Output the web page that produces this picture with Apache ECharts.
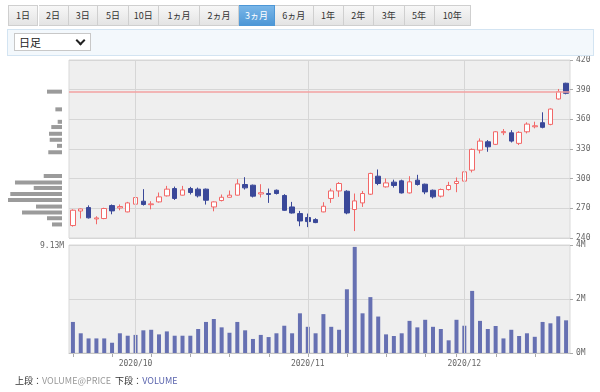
<!DOCTYPE html>
<html><head><meta charset="utf-8">
<script src="https://cdn.jsdelivr.net/npm/echarts@6/dist/echarts.min.js"></script>
<style>
html,body{margin:0;padding:0;background:#fff;}
body{width:600px;height:392px;overflow:hidden;position:relative;font-family:"Noto Sans CJK JP","Noto Sans",sans-serif;}
#chart{position:absolute;left:0;top:0;width:600px;height:392px;}
.tab{position:absolute;top:5px;height:21px;box-sizing:border-box;border:1px solid #cfcfcf;border-left:none;background:linear-gradient(#f7f7f7,#e4e4e4);color:#333;font-size:9px;line-height:19px;text-align:center;}
.tab.first{border-left:1px solid #cfcfcf;}
.tab.sel{background:linear-gradient(#79b6e8,#4d97d6);color:#fff;border-color:#4d97d6;}
#box{position:absolute;left:7px;top:29px;width:587px;height:27px;box-sizing:border-box;background:#f3f8fc;border:1px solid #d3e4f2;}
#sel{position:absolute;left:6px;top:3px;width:77px;height:18px;box-sizing:border-box;background:#fff;border:1px solid #c8c8c8;font-size:11px;line-height:16px;padding-left:4px;color:#222;}
#chev{position:absolute;right:6px;top:3px;width:5px;height:5px;border-right:2px solid #222;border-bottom:2px solid #222;transform:rotate(45deg);}
#legend{position:absolute;left:15px;top:374px;font-size:9px;white-space:nowrap;color:#333;}
</style></head>
<body>
<div id="chart"></div>
<div id="tabs"></div>
<div id="box"><div id="sel">日足<div id="chev"></div></div></div>
<div id="legend"><span>上段：</span><span style="color:#999">VOLUME@PRICE</span><span>&nbsp;&nbsp;下段：</span><span style="color:#5a64ad">VOLUME</span></div>
<script>
// ---- data ----
const tabLabels = ['1日','2日','3日','5日','10日','1ヵ月','2ヵ月','3ヵ月','6ヵ月','1年','2年','3年','5年','10年'];
const selectedTab = '3ヵ月';
const dates = [
 '2020/09/21','2020/09/22','2020/09/23','2020/09/24','2020/09/25','2020/09/28','2020/09/29','2020/09/30',
 '2020/10/01','2020/10/02','2020/10/05','2020/10/06','2020/10/07','2020/10/08','2020/10/09','2020/10/12',
 '2020/10/13','2020/10/14','2020/10/15','2020/10/16','2020/10/19','2020/10/20','2020/10/21','2020/10/22',
 '2020/10/23','2020/10/26','2020/10/27','2020/10/28','2020/10/29','2020/10/30',
 '2020/11/02','2020/11/03','2020/11/04','2020/11/05','2020/11/06','2020/11/09','2020/11/10','2020/11/11',
 '2020/11/12','2020/11/13','2020/11/16','2020/11/17','2020/11/18','2020/11/19','2020/11/20','2020/11/23',
 '2020/11/24','2020/11/25','2020/11/27','2020/11/30',
 '2020/12/01','2020/12/02','2020/12/03','2020/12/04','2020/12/07','2020/12/08','2020/12/09','2020/12/10',
 '2020/12/11','2020/12/14','2020/12/15','2020/12/16','2020/12/17','2020/12/18'
];
const openP  = [252.6,267.3,270.8,259.3,259.7,272.8,270.4,266.4,274.2,277.2,273.7,276.5,282.6,290.0,283.3,290.0,289.4,289.4,271.4,277.9,281.2,283.3,294.1,293.4,284.5,285.0,288.3,283.0,271.4,264.7,260.7,258.6,266.4,280.0,287.6,287.3,268.8,275.5,284.3,302.5,291.7,296.5,297.8,285.6,298.5,294.4,288.3,282.3,289.0,295.1,297.5,308.6,328.9,337.3,334.7,346.5,346.4,335.7,347.4,352.5,356.6,354.9,380.6,396.5];
const closeP = [268.1,269.4,260.4,260.3,269.8,267.4,271.8,275.5,280.9,273.9,274.5,281.6,289.4,280.0,288.6,286.0,282.6,278.2,276.5,281.2,283.3,294.7,290.7,282.3,285.8,284.0,285.0,268.0,265.3,257.2,256.6,255.6,272.1,287.6,295.1,265.3,277.5,285.0,305.3,295.1,295.7,293.1,285.6,296.8,294.1,286.6,281.6,289.0,293.1,297.2,306.9,329.6,338.0,332.2,347.4,347.6,338.0,346.8,355.2,353.5,351.9,370.4,388.0,386.3];
const lowP   = [251.5,259.7,259.7,253.9,259.0,264.0,268.0,266.0,272.4,272.8,269.0,275.8,282.0,278.5,283.0,284.0,281.0,273.8,267.0,277.0,281.0,283.0,289.0,281.0,281.0,275.5,284.0,267.5,264.7,251.9,251.0,255.0,266.0,275.5,281.6,264.0,247.0,271.4,283.5,293.4,291.0,291.0,285.0,285.0,293.0,284.3,280.0,281.0,288.0,286.3,294.0,306.3,325.5,327.2,334.0,344.0,336.6,334.0,345.8,350.9,350.9,354.0,380.0,385.3];
const highP  = [269.0,269.8,273.0,262.0,270.6,273.9,273.9,276.5,281.5,289.4,277.2,286.0,292.7,292.0,292.7,291.7,291.0,290.0,277.0,284.0,288.0,299.5,301.5,294.0,294.4,290.0,289.0,284.3,276.5,267.4,264.7,260.0,276.2,290.0,296.5,288.3,285.0,287.6,306.0,309.3,300.2,299.0,299.0,302.5,303.9,295.0,289.0,290.0,296.8,301.2,308.6,330.5,340.7,339.0,348.0,350.2,349.0,348.0,357.0,357.6,367.1,371.0,390.7,397.0];
const volumeM = [1.15,0.73,0.54,0.54,0.54,0.38,0.73,0.64,0.67,0.84,0.86,0.69,0.80,0.64,0.64,0.64,0.89,1.15,1.26,0.95,0.75,1.15,0.84,0.52,0.67,0.59,0.73,1.01,0.73,1.47,0.97,0.73,1.44,0.97,0.86,2.36,3.93,1.47,2.07,1.35,0.69,0.63,0.73,1.19,0.95,1.23,0.97,0.89,0.47,1.23,1.01,2.30,1.19,0.89,1.00,0.54,0.86,0.63,0.73,0.60,1.15,1.10,1.36,1.21];
const vapPrice = [388.0,370.1,357.5,352.2,345.4,339.3,333.2,326.7,302.7,296.2,290.6,284.6,278.4,271.8,265.8,260.0,253.7];
const vapVolM  = [2.54,1.12,0.73,1.81,2.20,2.08,0.85,2.32,3.09,7.95,4.78,8.74,9.13,4.40,6.76,2.54,1.69];
const vapMaxLabel = '9.13M';
const refPrice = 388;
const priceTicks = {min:240, max:420, interval:30};
const volTicks = {min:0, max:4, interval:2};

// ---- tabs (layout) ----
const tabEdges = [7.7,38.5,68.5,98,128.8,158.8,200,239,275,313.5,343.5,373.8,404.6,434.6,471];
const tabsEl = document.getElementById('tabs');
tabLabels.forEach((t,i)=>{
  const d=document.createElement('div');
  d.className='tab'+(i===0?' first':'')+(t===selectedTab?' sel':'');
  d.style.left=tabEdges[i]+'px';
  d.style.width=(tabEdges[i+1]-tabEdges[i])+'px';
  d.textContent=t;
  tabsEl.appendChild(d);
});

// ---- chart ----
const monthStart = dates.map((d,i)=> i>0 && d.slice(5,7)!==dates[i-1].slice(5,7));
const mondayIdx = [];
dates.forEach((d,i)=>{const [y,m,dd]=d.split('/').map(Number); if(new Date(y,m-1,dd).getDay()===1) mondayIdx.push(i);});
const monthNames = dates.filter((d,i)=>monthStart[i]);
const monoFont = 'DejaVu Sans Mono';
const gridColor = '#d6d6d6';

const chart = echarts.init(document.getElementById('chart'), null, {renderer:'canvas'});
chart.setOption({
  animation:false,
  grid:[
    {left:69, width:501, top:60, height:178, show:true, backgroundColor:'#efefef', borderColor:'#d9d9d9', borderWidth:1},
    {left:69, width:501, top:245, height:108, show:true, backgroundColor:'#efefef', borderColor:'#d9d9d9', borderWidth:1},
    {left:8, width:54, top:60, height:178, show:false}
  ],
  xAxis:[
    {gridIndex:0, type:'category', data:dates, axisLine:{show:false}, axisTick:{show:false}, axisLabel:{show:false}, splitLine:{show:false}},
    {gridIndex:1, type:'category', data:dates,
     axisLine:{show:true, lineStyle:{color:'#c4c4c4'}},
     axisTick:{show:false},
     axisLabel:{interval:(i)=>monthStart[i], formatter:v=>v.slice(0,7), color:'#666', fontFamily:monoFont, fontSize:8, margin:7},
     splitLine:{show:false}},
    {gridIndex:2, type:'value', inverse:true, min:0, max:9.13, show:false}
  ],
  yAxis:[
    {gridIndex:0, type:'value', position:'right', min:priceTicks.min, max:priceTicks.max, interval:priceTicks.interval,
     axisLine:{show:false}, axisTick:{show:true, length:3, lineStyle:{color:'#aaa'}},
     axisLabel:{color:'#666', fontFamily:monoFont, fontSize:8, margin:6},
     splitLine:{show:true, lineStyle:{color:gridColor}}},
    {gridIndex:1, type:'value', position:'right', min:volTicks.min, max:volTicks.max, interval:volTicks.interval,
     axisLine:{show:false}, axisTick:{show:true, length:3, lineStyle:{color:'#aaa'}},
     axisLabel:{color:'#666', fontFamily:monoFont, fontSize:8, margin:6, formatter:v=>v+'M'},
     splitLine:{show:true, lineStyle:{color:gridColor}}},
    {gridIndex:2, type:'value', min:priceTicks.min, max:priceTicks.max, show:false}
  ],
  graphic:[
    {type:'text', left:40, top:242, style:{text:vapMaxLabel, font:'8px '+monoFont, fill:'#666'}}
  ],
  series:[
    {type:'line', xAxisIndex:0, yAxisIndex:0, data:[], z:1, silent:true,
     markLine:{symbol:'none', silent:true, animation:false, label:{show:false}, lineStyle:{color:gridColor, width:1, type:'solid'},
       data:monthNames.map(n=>({xAxis:n}))}},
    {type:'line', xAxisIndex:1, yAxisIndex:1, data:[], z:1, silent:true,
     markLine:{symbol:'none', silent:true, animation:false, label:{show:false}, lineStyle:{color:gridColor, width:1, type:'solid'},
       data:monthNames.map(n=>({xAxis:n}))}},
    {type:'custom', xAxisIndex:1, yAxisIndex:1, z:2, silent:true, clip:false,
     data:mondayIdx.map(i=>[i, 0]),
     renderItem:(params, api)=>{
       const c=api.coord([api.value(0), 0]);
       const x=Math.round(c[0])+0.5;
       return {type:'line', shape:{x1:x, y1:c[1]+1, x2:x, y2:c[1]+4}, style:{stroke:'#aaa', lineWidth:1}};
     }},
    {type:'candlestick', xAxisIndex:0, yAxisIndex:0, z:3, barWidth:5,
     data:openP.map((o,i)=>[o, closeP[i], lowP[i], highP[i]]),
     itemStyle:{color:'#ffffff', color0:'#3a4899', borderColor:'#f26868', borderColor0:'#3a4899', borderWidth:1},
     markLine:{symbol:'none', silent:true, animation:false, label:{show:false}, lineStyle:{color:'#f3a2a2', width:1.5, type:'solid'},
       data:[{yAxis:refPrice}]}},
    {type:'bar', xAxisIndex:1, yAxisIndex:1, z:3, barWidth:4, data:volumeM, itemStyle:{color:'#6670b2'}},
    {type:'custom', xAxisIndex:2, yAxisIndex:2, z:3,
     data:vapPrice.map((p,i)=>[vapVolM[i], p]),
     encode:{x:0, y:1},
     renderItem:(params, api)=>{
       const v=api.value(0), p=api.value(1);
       const a=api.coord([0,p]), b=api.coord([v,p]);
       return {type:'rect', shape:{x:Math.min(a[0],b[0]), y:a[1]-2, width:Math.abs(a[0]-b[0]), height:4}, style:{fill:'#9b9b9b'}};
     }}
  ]
});
</script>
</body></html>
